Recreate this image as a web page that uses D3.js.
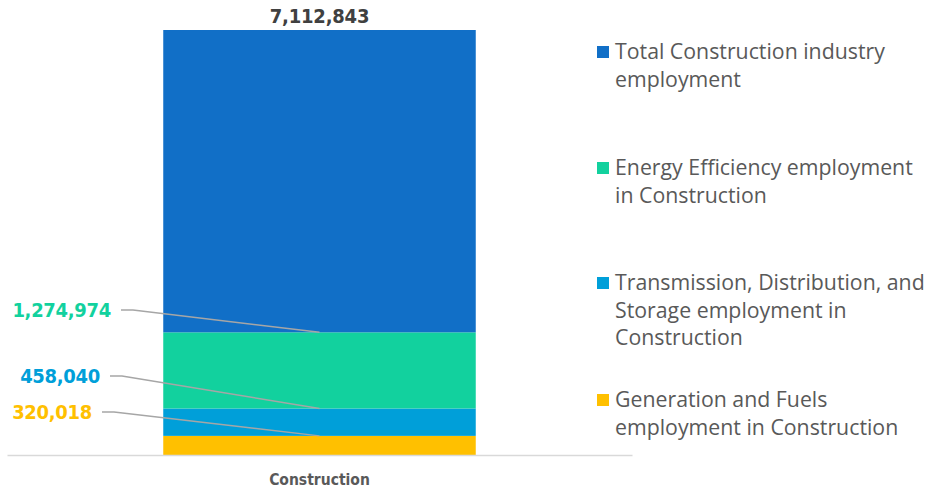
<!DOCTYPE html>
<html>
<head>
<meta charset="utf-8">
<script src="https://cdn.jsdelivr.net/npm/d3@7"></script>
<style>
  body { margin: 0; background: #fff; }
  svg { display: block; }
</style>
</head>
<body>
<div id="dataviz"></div>
<script>
// data, bottom of the stack first
const categories = ["Construction"];
const seriesNames = [
  "Generation and Fuels employment in Construction",
  "Transmission, Distribution, and Storage employment in Construction",
  "Energy Efficiency employment in Construction",
  "Total Construction industry employment"
];
const seriesValues = [320018, 458040, 1274974, 5059811];
const totalValue = 7112843;
const seriesColors = ["#ffc000", "#009fd9", "#12d19e", "#116fc7"];

// legend lines, top to bottom
const legendLines = [
  ["Total Construction industry", "employment"],
  ["Energy Efficiency employment", "in Construction"],
  ["Transmission, Distribution, and", "Storage employment in", "Construction"],
  ["Generation and Fuels", "employment in Construction"]
];
const legendOrder = [3, 2, 1, 0];

const W = 932, H = 491;
const margin = {top: 30, right: 300, bottom: 36, left: 7},
    width = 632 - margin.left,
    height = H - margin.top - margin.bottom;

let svg = d3.select("#dataviz")
            .append("svg")
            .attr("width", W)
            .attr("height", H);

let g = svg.append("g")
    .attr("transform", `translate(${margin.left}, ${margin.top})`);

const xScale = d3.scaleBand()
  .domain(categories)
  .range([0, width])
  .paddingInner(0.5)
  .paddingOuter(0.25);

const yScale = d3.scaleLinear()
  .domain([0, totalValue])
  .range([height, 0]);

// stack the segments
let acc = 0;
const stacked = seriesValues.map((v, i) => {
  const s = {i, y0: acc, y1: acc + v, value: v};
  acc += v;
  return s;
});

g.selectAll("rect.seg")
  .data(stacked)
  .join("rect")
  .attr("class", "seg")
  .attr("x", xScale("Construction"))
  .attr("width", xScale.bandwidth())
  .attr("y", d => yScale(d.y1))
  .attr("height", d => yScale(d.y0) - yScale(d.y1))
  .attr("fill", d => seriesColors[d.i]);

// x axis
const xAxis = g.append("g")
  .attr("transform", `translate(0, ${height})`)
  .call(d3.axisBottom(xScale).tickSize(0).tickPadding(19));
xAxis.select(".domain").attr("stroke", "#d9d9d9").attr("stroke-width", 1.5);
xAxis.selectAll("text")
  .attr("fill", "#595959")
  .style("font-family", "'DejaVu Sans Condensed', sans-serif")
  .style("font-weight", "bold")
  .style("font-size", "15.5px");

// total label
const cx = xScale("Construction") + xScale.bandwidth() / 2;
g.append("text")
  .attr("x", cx)
  .attr("y", yScale(totalValue) - 7)
  .attr("text-anchor", "middle")
  .attr("fill", "#404040")
  .style("font-family", "'DejaVu Sans Condensed', sans-serif")
  .style("font-weight", "bold")
  .style("font-size", "20px")
  .style("letter-spacing", "-0.2px")
  .text(d3.format(",")(totalValue));

// callout labels for the three small segments
const labelY = [412, 376, 310];
const labelRight = [92, 100, 111];
const fmt = d3.format(",");
stacked.slice(0, 3).forEach((d, k) => {
  const ly = labelY[k] - margin.top;
  const lx = labelRight[k] - margin.left;
  g.append("text")
    .attr("x", lx)
    .attr("y", ly)
    .attr("dy", "0.35em")
    .attr("text-anchor", "end")
    .attr("fill", seriesColors[d.i])
    .style("font-family", "'DejaVu Sans Condensed', sans-serif")
    .style("font-weight", "bold")
    .style("font-size", "20px")
    .style("letter-spacing", "-0.3px")
    .text(fmt(d.value));
  const line = d3.line();
  g.append("path")
    .attr("d", line([[lx + 10, ly], [lx + 22, ly], [cx, yScale(d.y1)]]))
    .attr("fill", "none")
    .attr("stroke", "#a6a6a6")
    .attr("stroke-width", 1.5);
});

// legend
const legendTop = [52, 168, 283, 400];
const leg = svg.append("g");
legendOrder.forEach((si, k) => {
  const y0 = legendTop[k];
  leg.append("rect")
    .attr("x", 597)
    .attr("y", y0 - 6)
    .attr("width", 12)
    .attr("height", 12)
    .attr("fill", seriesColors[si]);
  legendLines[k].forEach((t, j) => {
    leg.append("text")
      .attr("x", 615)
      .attr("y", y0 + j * 27.5)
      .attr("dy", "0.35em")
      .attr("fill", "#595959")
      .style("font-family", "'Open Sans', sans-serif")
      .style("font-size", "21.3px")
      .text(t);
  });
});
</script>
</body>
</html>
